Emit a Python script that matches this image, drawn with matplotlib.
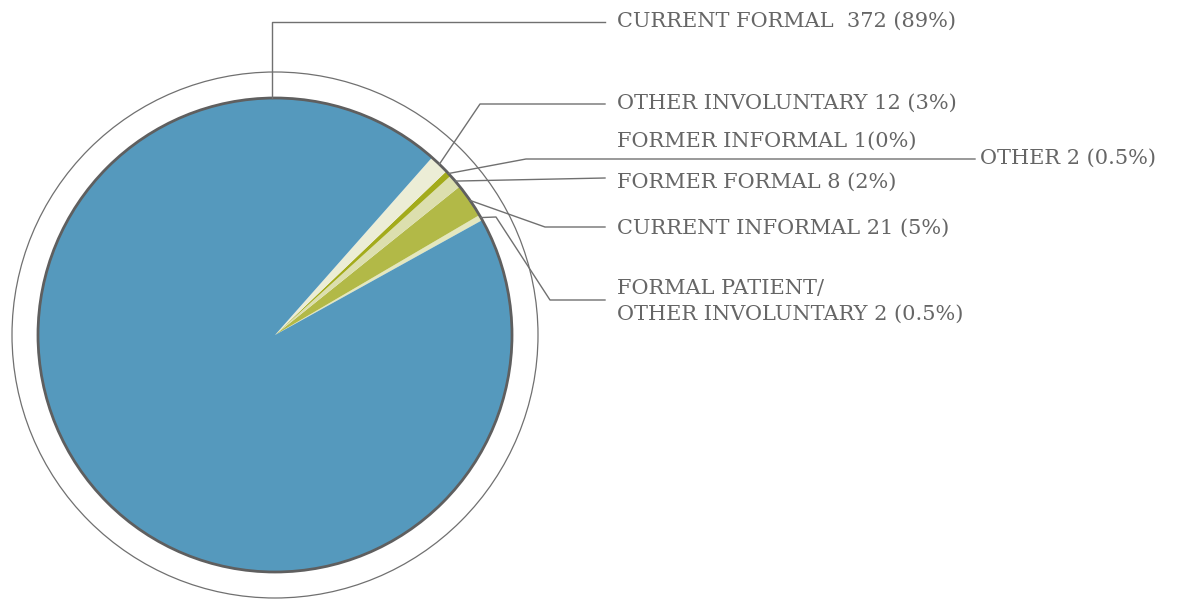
import numpy as np
import matplotlib.pyplot as plt
from matplotlib.patches import Circle

# slice sizes as drawn in the picture (degrees), counter-clockwise from the
# thin pale slice at about 29 degrees
slice_names = ['FORMAL PATIENT/\nOTHER INVOLUNTARY', 'CURRENT INFORMAL', 'FORMER FORMAL',
               'OTHER', 'OTHER INVOLUNTARY', 'CURRENT FORMAL ']
slice_counts = [2, 21, 8, 2, 12, 372]
slice_pcts = ['0.5%', '5%', '2%', '0.5%', '3%', '89%']
slice_deg = [1.4, 8.4, 3.4, 1.5, 4.8, 340.5]
colors = ['#e4e7bf', '#b2b947', '#dcdfae', '#a3ab1b', '#ecedd6', '#5599bd']

extra_label = 'FORMER INFORMAL 1(0%)'

W, H = 1185, 599
fig = plt.figure(figsize=(W / 100, H / 100), dpi=100)
ax = fig.add_axes([0, 0, 1, 1])
ax.set_xlim(0, W)
ax.set_ylim(0, H)
ax.set_aspect('equal')
ax.axis('off')

cx, cy, r = 275, H - 335, 237
start = 29.0
wedges, _ = ax.pie(slice_deg, colors=colors, startangle=start, counterclock=True,
                   center=(cx, cy), radius=r, wedgeprops=dict(linewidth=0))
ax.set_xlim(0, W)
ax.set_ylim(0, H)
ax.add_patch(Circle((cx, cy), r, fill=False, ec='#5f5f5f', lw=2.0))
ax.add_patch(Circle((cx, cy), 263, fill=False, ec='#707070', lw=0.9))

tcol = '#666666'
lcol = '#707070'
font = dict(family='DejaVu Serif', fontsize=15, color=tcol, va='center')


def edge_point(w):
    a = np.deg2rad((w.theta1 + w.theta2) / 2)
    return cx + r * np.cos(a), cy + r * np.sin(a)


def yy(v):
    return H - v


# leader paths (elbows in image pixels), one per slice
paths = [
    [(496, 217), (550, 300), (605, 300)],
    [(545, 227), (605, 227)],
    [(605, 178)],
    [(526, 159), (975, 159)],
    [(480, 104), (605, 104)],
]
label_y = [301, 228, 182, 158, 103]
label_x = [617, 617, 617, 980, 617]

for i in range(5):
    x0, y0 = edge_point(wedges[i])
    xs = [x0] + [p[0] for p in paths[i]]
    ys = [y0] + [yy(p[1]) for p in paths[i]]
    ax.plot(xs, ys, color=lcol, lw=1.0)
    txt = '%s %d (%s)' % (slice_names[i], slice_counts[i], slice_pcts[i])
    ax.text(label_x[i], yy(label_y[i]), txt, linespacing=1.45, **font)

# big slice: vertical leader from the top of the pie
ax.plot([cx - 3, cx - 3, 605], [cy + r, yy(22), yy(22)], color=lcol, lw=1.0)
ax.text(617, yy(21), '%s %d (%s)' % (slice_names[5], slice_counts[5], slice_pcts[5]), **font)

ax.text(617, yy(141), extra_label, **font)

fig.savefig('out.png', dpi=100, facecolor='white')
